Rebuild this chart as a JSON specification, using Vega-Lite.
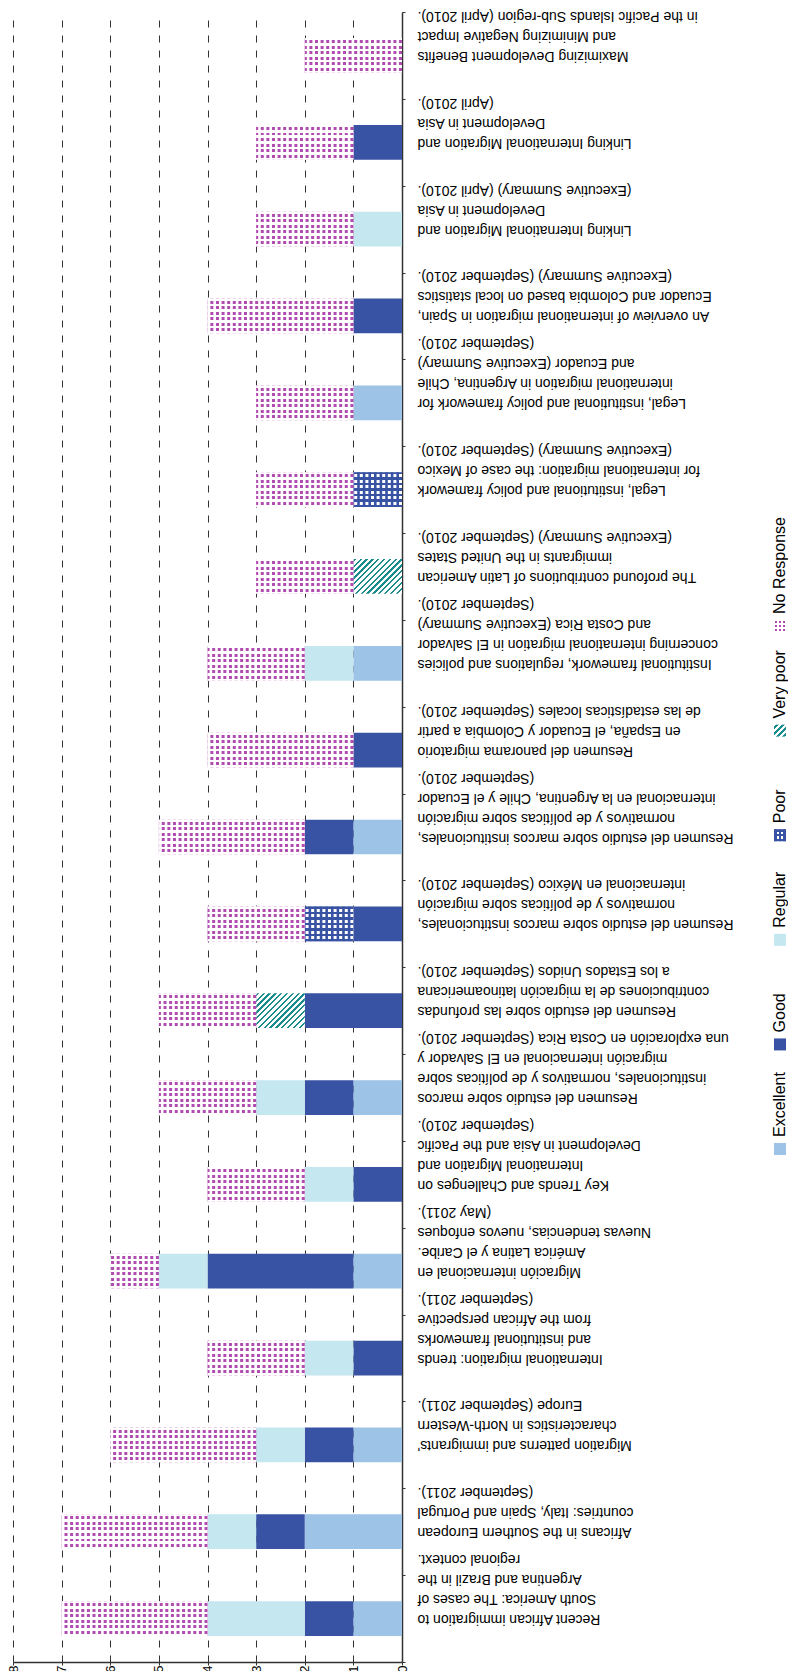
{
  "$schema": "https://vega.github.io/schema/vega-lite/v6.json",
  "background": "white",
  "padding": {"left": 7, "top": 5, "right": 0, "bottom": 0},
  "config": {"view": {"stroke": null}, "font": "Liberation Sans"},
  "spacing": 39,
  "datasets": {
    "cats": [
      {"id": 1, "label": "Recent African immigration to|South America: The cases of|Argentina and Brazil in the|regional context."},
      {"id": 2, "label": "Africans in the Southern European|countries: Italy, Spain and Portugal|(September 2011)."},
      {"id": 3, "label": "Migration patterns and immigrants'|characteristics in North-Western|Europe (September 2011)."},
      {"id": 4, "label": "International migration: trends|and institutional frameworks|from the African perspective|(September 2011)."},
      {"id": 5, "label": "Migración internacional en|América Latina y el Caribe.|Nuevas tendencias, nuevos enfoques|(May 2011)."},
      {"id": 6, "label": "Key Trends and Challenges on|International Migration and|Development in Asia and the Pacific|(September 2010)."},
      {"id": 7, "label": "Resumen del estudio sobre marcos|institucionales, normativos y de políticas sobre|migración internacional en El Salvador y|una exploración en Costa Rica (September 2010)."},
      {"id": 8, "label": "Resumen del estudio sobre las profundas|contribuciones de la migración latinoamericana|a los Estados Unidos (September 2010)."},
      {"id": 9, "label": "Resumen del estudio sobre marcos institucionales,|normativos y de políticas sobre migración|internacional en México (September 2010)."},
      {"id": 10, "label": "Resumen del estudio sobre marcos institucionales,|normativos y de políticas sobre migración|internacional en la Argentina, Chile y el Ecuador|(September 2010)."},
      {"id": 11, "label": "Resumen del panorama migratorio|en España, el Ecuador y Colombia a partir|de las estadísticas locales (September 2010)."},
      {"id": 12, "label": "Institutional framework, regulations and policies|concerning international migration in El Salvador|and Costa Rica (Executive Summary)|(September 2010)."},
      {"id": 13, "label": "The profound contributions of Latin American|immigrants in the United States|(Executive Summary) (September 2010)."},
      {"id": 14, "label": "Legal, institutional and policy framework|for international migration: the case of Mexico|(Executive Summary) (September 2010)."},
      {"id": 15, "label": "Legal, institutional and policy framework for|international migration in Argentina, Chile|and Ecuador (Executive Summary)|(September 2010)."},
      {"id": 16, "label": "An overview of international migration in Spain,|Ecuador and Colombia based on local statistics|(Executive Summary) (September 2010)."},
      {"id": 17, "label": "Linking International Migration and|Development in Asia|(Executive Summary) (April 2010)."},
      {"id": 18, "label": "Linking International Migration and|Development in Asia|(April 2010)."},
      {"id": 19, "label": "Maximizing Development Benefits|and Minimizing Negative Impact|in the Pacific Islands Sub-region (April 2010)."}
    ],
    "segs": [
      {"id": 1, "rating": "Excellent", "n": 1}, {"id": 1, "rating": "Good", "n": 1}, {"id": 1, "rating": "Regular", "n": 2}, {"id": 1, "rating": "No Response", "n": 3},
      {"id": 2, "rating": "Excellent", "n": 2}, {"id": 2, "rating": "Good", "n": 1}, {"id": 2, "rating": "Regular", "n": 1}, {"id": 2, "rating": "No Response", "n": 3},
      {"id": 3, "rating": "Excellent", "n": 1}, {"id": 3, "rating": "Good", "n": 1}, {"id": 3, "rating": "Regular", "n": 1}, {"id": 3, "rating": "No Response", "n": 3},
      {"id": 4, "rating": "Good", "n": 1}, {"id": 4, "rating": "Regular", "n": 1}, {"id": 4, "rating": "No Response", "n": 2},
      {"id": 5, "rating": "Excellent", "n": 1}, {"id": 5, "rating": "Good", "n": 3}, {"id": 5, "rating": "Regular", "n": 1}, {"id": 5, "rating": "No Response", "n": 1},
      {"id": 6, "rating": "Good", "n": 1}, {"id": 6, "rating": "Regular", "n": 1}, {"id": 6, "rating": "No Response", "n": 2},
      {"id": 7, "rating": "Excellent", "n": 1}, {"id": 7, "rating": "Good", "n": 1}, {"id": 7, "rating": "Regular", "n": 1}, {"id": 7, "rating": "No Response", "n": 2},
      {"id": 8, "rating": "Good", "n": 2}, {"id": 8, "rating": "Very poor", "n": 1}, {"id": 8, "rating": "No Response", "n": 2},
      {"id": 9, "rating": "Good", "n": 1}, {"id": 9, "rating": "Poor", "n": 1}, {"id": 9, "rating": "No Response", "n": 2},
      {"id": 10, "rating": "Excellent", "n": 1}, {"id": 10, "rating": "Good", "n": 1}, {"id": 10, "rating": "No Response", "n": 3},
      {"id": 11, "rating": "Good", "n": 1}, {"id": 11, "rating": "No Response", "n": 3},
      {"id": 12, "rating": "Excellent", "n": 1}, {"id": 12, "rating": "Regular", "n": 1}, {"id": 12, "rating": "No Response", "n": 2},
      {"id": 13, "rating": "Very poor", "n": 1}, {"id": 13, "rating": "No Response", "n": 2},
      {"id": 14, "rating": "Poor", "n": 1}, {"id": 14, "rating": "No Response", "n": 2},
      {"id": 15, "rating": "Excellent", "n": 1}, {"id": 15, "rating": "No Response", "n": 2},
      {"id": 16, "rating": "Good", "n": 1}, {"id": 16, "rating": "No Response", "n": 3},
      {"id": 17, "rating": "Regular", "n": 1}, {"id": 17, "rating": "No Response", "n": 2},
      {"id": 18, "rating": "Good", "n": 1}, {"id": 18, "rating": "No Response", "n": 2},
      {"id": 19, "rating": "No Response", "n": 2}
    ],
    "leg": [
      {"rating": "Excellent"}, {"rating": "Good"}, {"rating": "Regular"}, {"rating": "Poor"}, {"rating": "Very poor"}, {"rating": "No Response"}
    ]
  },
  "hconcat": [
    {
      "width": 389,
      "height": 1650,
      "data": {"name": "segs"},
      "transform": [
        {"lookup": "id", "from": {"data": {"name": "cats"}, "key": "id", "fields": ["label"]}},
        {"calculate": "indexof(['Excellent','Good','Regular','Poor','Very poor','No Response'], datum.rating)", "as": "ord"},
        {"stack": "n", "groupby": ["id"], "sort": [{"field": "ord", "order": "ascending"}], "as": ["v0", "v1"]}
      ],
      "layer": [
        {
          "mark": {"type": "bar", "height": {"band": 0.4}},
          "encoding": {
            "y": {
              "field": "label", "type": "nominal",
              "sort": {"field": "id", "op": "min", "order": "descending"},
              "scale": {"paddingInner": 0, "paddingOuter": 0},
              "axis": {
                "orient": "right", "title": null,
                "labelExpr": "split(datum.label, '|')",
                "labelAngle": 180, "labelAlign": "right", "labelBaseline": "middle",
                "labelFontSize": 14, "labelLineHeight": 20, "labelLimit": 600,
                "labelPadding": 12, "labelColor": "#000", "labelOverlap": false,
                "tickBand": "extent", "tickSize": 3, "tickColor": "#333",
                "domainColor": "#333", "domainWidth": 1.5, "grid": false
              }
            },
            "x": {
              "field": "v0", "type": "quantitative",
              "scale": {"domain": [0, 8], "reverse": true, "nice": false, "zero": false},
              "axis": {
                "values": [0, 1, 2, 3, 4, 5, 6, 7, 8], "title": null,
                "grid": true, "gridDash": [7, 8], "gridColor": "#333", "gridWidth": 1,
                "labelAngle": 270, "labelFontSize": 13, "labelPadding": 0, "labelFlush": false,
                "labelColor": "#000", "tickSize": 3, "tickColor": "#333",
                "domainColor": "#333", "domainWidth": 1.5
              }
            },
            "x2": {"field": "v1"},
            "fill": {
              "condition": {
                "test": "datum.rating === 'Very poor'",
                "value": {
                  "gradient": "linear", "x1": 0, "y1": 0, "x2": 1.135, "y2": 0.81,
                  "stops": [
                    {"offset": 0, "color": "#ffffff"},
                    {"offset": 0.01, "color": "#ffffff"}, {"offset": 0.01, "color": "#1a8c8c"}, {"offset": 0.038, "color": "#1a8c8c"}, {"offset": 0.038, "color": "#ffffff"},
                    {"offset": 0.08, "color": "#ffffff"}, {"offset": 0.08, "color": "#1a8c8c"}, {"offset": 0.108, "color": "#1a8c8c"}, {"offset": 0.108, "color": "#ffffff"},
                    {"offset": 0.15, "color": "#ffffff"}, {"offset": 0.15, "color": "#1a8c8c"}, {"offset": 0.178, "color": "#1a8c8c"}, {"offset": 0.178, "color": "#ffffff"},
                    {"offset": 0.22, "color": "#ffffff"}, {"offset": 0.22, "color": "#1a8c8c"}, {"offset": 0.248, "color": "#1a8c8c"}, {"offset": 0.248, "color": "#ffffff"},
                    {"offset": 0.29, "color": "#ffffff"}, {"offset": 0.29, "color": "#1a8c8c"}, {"offset": 0.318, "color": "#1a8c8c"}, {"offset": 0.318, "color": "#ffffff"},
                    {"offset": 0.36, "color": "#ffffff"}, {"offset": 0.36, "color": "#1a8c8c"}, {"offset": 0.388, "color": "#1a8c8c"}, {"offset": 0.388, "color": "#ffffff"},
                    {"offset": 0.43, "color": "#ffffff"}, {"offset": 0.43, "color": "#1a8c8c"}, {"offset": 0.458, "color": "#1a8c8c"}, {"offset": 0.458, "color": "#ffffff"},
                    {"offset": 0.5, "color": "#ffffff"}, {"offset": 0.5, "color": "#1a8c8c"}, {"offset": 0.528, "color": "#1a8c8c"}, {"offset": 0.528, "color": "#ffffff"},
                    {"offset": 0.57, "color": "#ffffff"}, {"offset": 0.57, "color": "#1a8c8c"}, {"offset": 0.598, "color": "#1a8c8c"}, {"offset": 0.598, "color": "#ffffff"},
                    {"offset": 0.64, "color": "#ffffff"}, {"offset": 0.64, "color": "#1a8c8c"}, {"offset": 0.668, "color": "#1a8c8c"}, {"offset": 0.668, "color": "#ffffff"},
                    {"offset": 0.71, "color": "#ffffff"}, {"offset": 0.71, "color": "#1a8c8c"}, {"offset": 0.738, "color": "#1a8c8c"}, {"offset": 0.738, "color": "#ffffff"},
                    {"offset": 0.78, "color": "#ffffff"}, {"offset": 0.78, "color": "#1a8c8c"}, {"offset": 0.808, "color": "#1a8c8c"}, {"offset": 0.808, "color": "#ffffff"},
                    {"offset": 0.85, "color": "#ffffff"}, {"offset": 0.85, "color": "#1a8c8c"}, {"offset": 0.878, "color": "#1a8c8c"}, {"offset": 0.878, "color": "#ffffff"},
                    {"offset": 0.92, "color": "#ffffff"}, {"offset": 0.92, "color": "#1a8c8c"}, {"offset": 0.948, "color": "#1a8c8c"}, {"offset": 0.948, "color": "#ffffff"},
                    {"offset": 1, "color": "#ffffff"}
                  ]
                }
              },
              "field": "rating", "type": "nominal",
              "scale": {
                "domain": ["Excellent", "Good", "Regular", "Poor", "Very poor", "No Response"],
                "range": ["#9dc3e6", "#3953a4", "#c5e7f0", "#3953a4", "#ffffff", "#ffffff"]
              },
              "legend": null
            }
          }
        },
        {
          "transform": [{"filter": "datum.rating === 'Poor' || datum.rating === 'No Response'"}],
          "mark": {"type": "rule", "strokeWidth": 34.7, "strokeDash": [3, 2.6], "strokeCap": "butt"},
          "encoding": {
            "y": {"field": "label", "type": "nominal", "sort": {"field": "id", "op": "min", "order": "descending"}},
            "x": {"field": "v0", "type": "quantitative"},
            "x2": {"field": "v1"},
            "stroke": {"condition": {"test": "datum.rating === 'Poor'", "value": "#ffffff"}, "value": "#b04cb0"}
          }
        },
        {
          "transform": [{"filter": "datum.rating === 'Poor' || datum.rating === 'No Response'"}],
          "mark": {"type": "bar", "height": {"band": 0.4}},
          "encoding": {
            "y": {"field": "label", "type": "nominal", "sort": {"field": "id", "op": "min", "order": "descending"}},
            "x": {"field": "v0", "type": "quantitative"},
            "x2": {"field": "v1"},
            "fill": {
              "condition": {
                "test": "datum.rating === 'Poor'",
                "value": {
                  "gradient": "linear", "x1": 0, "y1": 0, "x2": 0, "y2": 1,
                  "stops": [
                    {"offset": 0, "color": "#3953a4"}, {"offset": 0.061, "color": "#3953a4"}, {"offset": 0.061, "color": "rgba(57,83,164,0)"}, {"offset": 0.147, "color": "rgba(57,83,164,0)"},
                    {"offset": 0.147, "color": "#3953a4"}, {"offset": 0.219, "color": "#3953a4"}, {"offset": 0.219, "color": "rgba(57,83,164,0)"}, {"offset": 0.305, "color": "rgba(57,83,164,0)"},
                    {"offset": 0.305, "color": "#3953a4"}, {"offset": 0.378, "color": "#3953a4"}, {"offset": 0.378, "color": "rgba(57,83,164,0)"}, {"offset": 0.464, "color": "rgba(57,83,164,0)"},
                    {"offset": 0.464, "color": "#3953a4"}, {"offset": 0.536, "color": "#3953a4"}, {"offset": 0.536, "color": "rgba(57,83,164,0)"}, {"offset": 0.622, "color": "rgba(57,83,164,0)"},
                    {"offset": 0.622, "color": "#3953a4"}, {"offset": 0.695, "color": "#3953a4"}, {"offset": 0.695, "color": "rgba(57,83,164,0)"}, {"offset": 0.781, "color": "rgba(57,83,164,0)"},
                    {"offset": 0.781, "color": "#3953a4"}, {"offset": 0.853, "color": "#3953a4"}, {"offset": 0.853, "color": "rgba(57,83,164,0)"}, {"offset": 0.939, "color": "rgba(57,83,164,0)"},
                    {"offset": 0.939, "color": "#3953a4"}, {"offset": 1, "color": "#3953a4"}
                  ]
                }
              },
              "value": {
                "gradient": "linear", "x1": 0, "y1": 0, "x2": 0, "y2": 1,
                "stops": [
                  {"offset": 0, "color": "#ffffff"}, {"offset": 0.061, "color": "#ffffff"}, {"offset": 0.061, "color": "rgba(255,255,255,0)"}, {"offset": 0.147, "color": "rgba(255,255,255,0)"},
                  {"offset": 0.147, "color": "#ffffff"}, {"offset": 0.219, "color": "#ffffff"}, {"offset": 0.219, "color": "rgba(255,255,255,0)"}, {"offset": 0.305, "color": "rgba(255,255,255,0)"},
                  {"offset": 0.305, "color": "#ffffff"}, {"offset": 0.378, "color": "#ffffff"}, {"offset": 0.378, "color": "rgba(255,255,255,0)"}, {"offset": 0.464, "color": "rgba(255,255,255,0)"},
                  {"offset": 0.464, "color": "#ffffff"}, {"offset": 0.536, "color": "#ffffff"}, {"offset": 0.536, "color": "rgba(255,255,255,0)"}, {"offset": 0.622, "color": "rgba(255,255,255,0)"},
                  {"offset": 0.622, "color": "#ffffff"}, {"offset": 0.695, "color": "#ffffff"}, {"offset": 0.695, "color": "rgba(255,255,255,0)"}, {"offset": 0.781, "color": "rgba(255,255,255,0)"},
                  {"offset": 0.781, "color": "#ffffff"}, {"offset": 0.853, "color": "#ffffff"}, {"offset": 0.853, "color": "rgba(255,255,255,0)"}, {"offset": 0.939, "color": "rgba(255,255,255,0)"},
                  {"offset": 0.939, "color": "#ffffff"}, {"offset": 1, "color": "#ffffff"}
                ]
              }
            }
          }
        }
      ]
    },
    {
      "width": 14,
      "height": 1650,
      "data": {"name": "leg"},
      "transform": [
        {"calculate": "indexof(['Excellent','Good','Regular','Poor','Very poor','No Response'], datum.rating) + 1", "as": "k"}
      ],
      "encoding": {
        "y": {"field": "k", "type": "quantitative", "scale": {"domain": [-3.904, 11.87], "nice": false, "zero": false}, "axis": null}
      },
      "layer": [
        {
          "mark": {"type": "point", "shape": "square", "size": 144, "filled": true, "opacity": 1, "strokeWidth": 0},
          "encoding": {
            "fill": {
              "condition": [
                {
                  "test": "datum.rating === 'Poor'",
                  "value": {
                    "gradient": "linear", "x1": 0, "y1": 0, "x2": 1, "y2": 0,
                    "stops": [
                      {"offset": 0, "color": "#3953a4"}, {"offset": 0.22, "color": "#3953a4"}, {"offset": 0.22, "color": "#ffffff"}, {"offset": 0.42, "color": "#ffffff"},
                      {"offset": 0.42, "color": "#3953a4"}, {"offset": 0.58, "color": "#3953a4"}, {"offset": 0.58, "color": "#ffffff"}, {"offset": 0.78, "color": "#ffffff"},
                      {"offset": 0.78, "color": "#3953a4"}, {"offset": 1, "color": "#3953a4"}
                    ]
                  }
                },
                {
                  "test": "datum.rating === 'Very poor'",
                  "value": {
                    "gradient": "linear", "x1": 0, "y1": 0, "x2": 1, "y2": 1,
                    "stops": [
                      {"offset": 0, "color": "#ffffff"}, {"offset": 0.08, "color": "#ffffff"}, {"offset": 0.08, "color": "#1a8c8c"}, {"offset": 0.2, "color": "#1a8c8c"},
                      {"offset": 0.2, "color": "#ffffff"}, {"offset": 0.33, "color": "#ffffff"}, {"offset": 0.33, "color": "#1a8c8c"}, {"offset": 0.45, "color": "#1a8c8c"},
                      {"offset": 0.45, "color": "#ffffff"}, {"offset": 0.58, "color": "#ffffff"}, {"offset": 0.58, "color": "#1a8c8c"}, {"offset": 0.7, "color": "#1a8c8c"},
                      {"offset": 0.7, "color": "#ffffff"}, {"offset": 0.83, "color": "#ffffff"}, {"offset": 0.83, "color": "#1a8c8c"}, {"offset": 0.95, "color": "#1a8c8c"},
                      {"offset": 0.95, "color": "#ffffff"}, {"offset": 1, "color": "#ffffff"}
                    ]
                  }
                },
                {
                  "test": "datum.rating === 'No Response'",
                  "value": {
                    "gradient": "linear", "x1": 0, "y1": 0, "x2": 1, "y2": 0,
                    "stops": [
                      {"offset": 0, "color": "#ffffff"}, {"offset": 0.06, "color": "#ffffff"}, {"offset": 0.06, "color": "#b04cb0"}, {"offset": 0.24, "color": "#b04cb0"},
                      {"offset": 0.24, "color": "#ffffff"}, {"offset": 0.41, "color": "#ffffff"}, {"offset": 0.41, "color": "#b04cb0"}, {"offset": 0.59, "color": "#b04cb0"},
                      {"offset": 0.59, "color": "#ffffff"}, {"offset": 0.76, "color": "#ffffff"}, {"offset": 0.76, "color": "#b04cb0"}, {"offset": 0.94, "color": "#b04cb0"},
                      {"offset": 0.94, "color": "#ffffff"}, {"offset": 1, "color": "#ffffff"}
                    ]
                  }
                }
              ],
              "field": "rating", "type": "nominal", "legend": null
            }
          }
        },
        {
          "transform": [{"filter": "datum.rating === 'Poor' || datum.rating === 'No Response'"}],
          "mark": {"type": "point", "shape": "square", "size": 144, "filled": true, "opacity": 1, "strokeWidth": 0},
          "encoding": {
            "fill": {
              "condition": {
                "test": "datum.rating === 'Poor'",
                "value": {
                  "gradient": "linear", "x1": 0, "y1": 0, "x2": 0, "y2": 1,
                  "stops": [
                    {"offset": 0, "color": "#3953a4"}, {"offset": 0.22, "color": "#3953a4"}, {"offset": 0.22, "color": "rgba(57,83,164,0)"}, {"offset": 0.42, "color": "rgba(57,83,164,0)"},
                    {"offset": 0.42, "color": "#3953a4"}, {"offset": 0.58, "color": "#3953a4"}, {"offset": 0.58, "color": "rgba(57,83,164,0)"}, {"offset": 0.78, "color": "rgba(57,83,164,0)"},
                    {"offset": 0.78, "color": "#3953a4"}, {"offset": 1, "color": "#3953a4"}
                  ]
                }
              },
              "value": {
                "gradient": "linear", "x1": 0, "y1": 0, "x2": 0, "y2": 1,
                "stops": [
                  {"offset": 0, "color": "#ffffff"}, {"offset": 0.06, "color": "#ffffff"}, {"offset": 0.06, "color": "rgba(255,255,255,0)"}, {"offset": 0.24, "color": "rgba(255,255,255,0)"},
                  {"offset": 0.24, "color": "#ffffff"}, {"offset": 0.41, "color": "#ffffff"}, {"offset": 0.41, "color": "rgba(255,255,255,0)"}, {"offset": 0.59, "color": "rgba(255,255,255,0)"},
                  {"offset": 0.59, "color": "#ffffff"}, {"offset": 0.76, "color": "#ffffff"}, {"offset": 0.76, "color": "rgba(255,255,255,0)"}, {"offset": 0.94, "color": "rgba(255,255,255,0)"},
                  {"offset": 0.94, "color": "#ffffff"}, {"offset": 1, "color": "#ffffff"}
                ]
              }
            }
          }
        },
        {
          "mark": {"type": "text", "angle": 270, "align": "left", "baseline": "middle", "dx": 12, "fontSize": 16, "font": "Liberation Sans", "color": "#000"},
          "encoding": {"text": {"field": "rating", "type": "nominal"}}
        }
      ]
    }
  ]
}
